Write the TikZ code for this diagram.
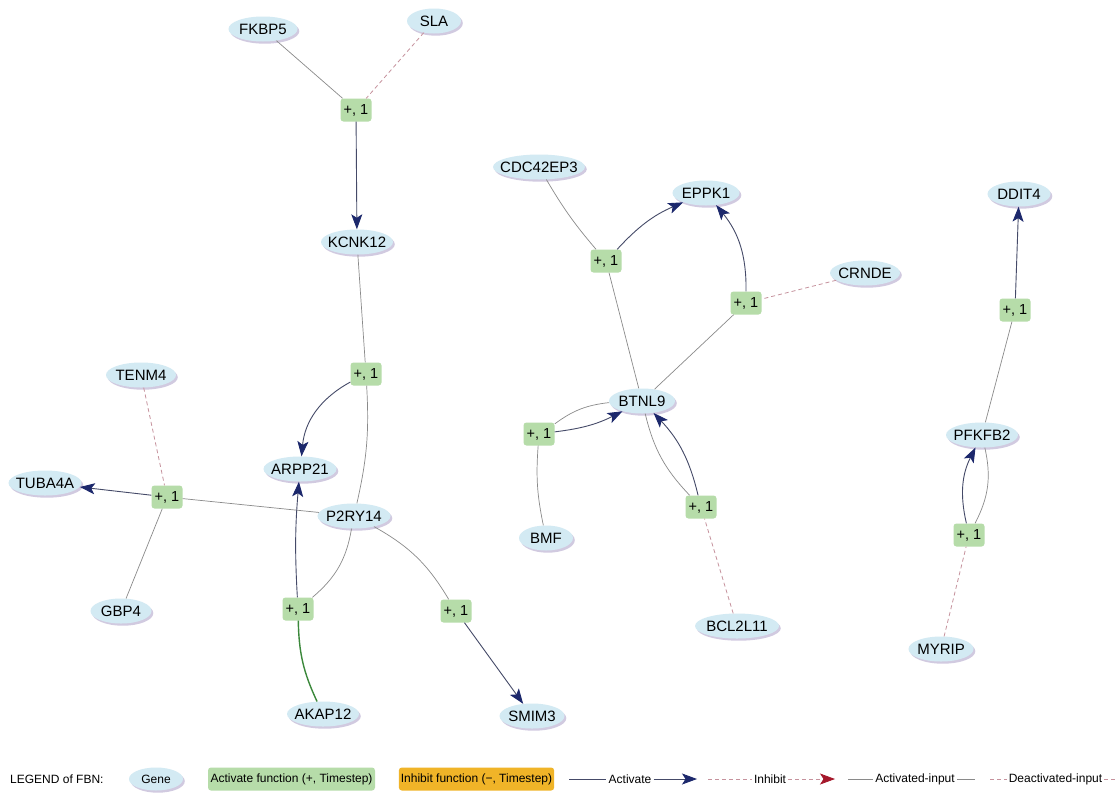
\documentclass[tikz,border=0pt]{standalone}
\usepackage{fontspec}
\setmainfont{Liberation Sans}
\usetikzlibrary{shapes.geometric,arrows.meta,shadows}
\definecolor{genefill}{HTML}{D3EAF3}
\definecolor{geneshade}{HTML}{B3A8CC}
\definecolor{actfill}{HTML}{B6DCA9}
\definecolor{inhfill}{HTML}{F0B428}
\definecolor{actline}{HTML}{454A68}
\definecolor{navy}{HTML}{1C286C}
\definecolor{inputgray}{HTML}{8A8A8A}
\definecolor{deactpink}{HTML}{C6929D}
\definecolor{inhred}{HTML}{A5182B}
\definecolor{akapgreen}{HTML}{3B883B}
\begin{document}
\begin{tikzpicture}[x=1pt,y=1pt,
  gene/.style={ellipse, fill=genefill, inner xsep=-40pt, inner ysep=-12pt,
    minimum height=25pt, minimum width=#1, font=\fontsize{15}{17}\selectfont,
    drop shadow={shadow xshift=1.8pt, shadow yshift=-2.2pt, fill=geneshade, opacity=0.6}},
  gene/.default=66,
  fn/.style={rectangle, rounded corners=3pt, fill=actfill, minimum width=31pt,
    minimum height=23pt, inner sep=2pt, font=\fontsize{14.5}{16}\selectfont},
  act/.style={draw=actline, line width=0.9pt,
    -{Stealth[length=15pt,width=11pt,inset=3.5pt,color=navy]}},
  ain/.style={draw=inputgray, line width=0.7pt},
  din/.style={draw=deactpink, line width=0.8pt, dash pattern=on 4pt off 3pt},
  akap/.style={draw=akapgreen, line width=1.4pt},
  legtext/.style={font=\fontsize{12}{14}\selectfont, inner sep=2pt},
]
\fill[white] (0,0) rectangle (1118,-793);
\useasboundingbox (0,0) rectangle (1118,-793);

% genes
\node[gene=69] (fkbp5) at (263,-29) {FKBP5};
\node[gene=54] (sla) at (434,-21) {SLA};
\node[gene=72] (kcnk12) at (357,-242) {KCNK12};
\node[gene=70] (tenm4) at (141,-375) {TENM4};
\node[gene=73] (arpp21) at (300,-469) {ARPP21};
\node[gene=73] (p2ry14) at (354,-516) {P2RY14};
\node[gene=73] (tuba4a) at (45,-483) {TUBA4A};
\node[gene=61] (gbp4) at (121,-611) {GBP4};
\node[gene=72] (akap12) at (323,-714) {AKAP12};
\node[gene=65] (smim3) at (532,-716) {SMIM3};
\node[gene=92] (cdc42ep3) at (539,-167) {CDC42EP3};
\node[gene=67] (eppk1) at (706,-193) {EPPK1};
\node[gene=70] (crnde) at (865,-273) {CRNDE};
\node[gene=66] (btnl9) at (642,-401) {BTNL9};
\node[gene=54] (bmf) at (546,-538) {BMF};
\node[gene=84] (bcl2l11) at (737,-626) {BCL2L11};
\node[gene=63] (ddit4) at (1019,-194) {DDIT4};
\node[gene=72] (pfkfb2) at (982,-435) {PFKFB2};
\node[gene=65] (myrip) at (941,-649) {MYRIP};

% activate functions
\node[fn] (f1) at (356,-110) {+, 1};
\node[fn] (f2) at (366,-374) {+, 1};
\node[fn] (f3) at (167,-497) {+, 1};
\node[fn] (f4) at (298,-609) {+, 1};
\node[fn] (f5) at (456,-611) {+, 1};
\node[fn] (f6) at (606,-261) {+, 1};
\node[fn] (f7) at (746,-303) {+, 1};
\node[fn] (f8) at (539,-434) {+, 1};
\node[fn] (f9) at (701,-507) {+, 1};
\node[fn] (f10) at (1015,-310) {+, 1};
\node[fn] (f11) at (969,-535) {+, 1};

% connectors
\draw[ain] (fkbp5) -- (f1);
\draw[din] (sla) -- (f1);
\draw[act] (f1) -- (kcnk12);
\draw[ain] (kcnk12) -- (f2);
\draw[act] (f2) to[bend right=28] (arpp21);
\draw[ain] (f2) to[bend left=8] (p2ry14);
\draw[ain] (p2ry14) -- (f3);
\draw[din] (tenm4) -- (f3);
\draw[ain] (gbp4) -- (f3);
\draw[act] (f3) -- (tuba4a);
\draw[ain] (p2ry14) to[bend left=20] (f4);
\draw[act] (f4) to[bend left=4] (arpp21);
\draw[akap] (akap12) to[bend left=12] (f4);
\draw[ain] (p2ry14) to[bend left=15] (f5);
\draw[act] (f5) -- (smim3);
\draw[ain] (cdc42ep3) to[bend right=5] (f6);
\draw[act] (f6) to[bend left=12] (eppk1);
\draw[ain] (f6) -- (btnl9);
\draw[ain] (btnl9) -- (f7);
\draw[din] (crnde) -- (f7);
\draw[act] (f7) to[bend right=20] (eppk1);
\draw[act] (f8) to[bend right=10] (btnl9);
\draw[ain] (btnl9) to[bend right=15] (f8);
\draw[ain] (bmf) to[bend left=8] (f8);
\draw[ain] (btnl9) to[bend right=15] (f9);
\draw[act] (f9) to[bend right=15] (btnl9);
\draw[din] (bcl2l11) -- (f9);
\draw[act] (f10) -- (ddit4);
\draw[ain] (pfkfb2) -- (f10);
\draw[act] (f11) to[bend left=20] (pfkfb2);
\draw[ain] (pfkfb2) to[bend left=20] (f11);
\draw[din] (myrip) -- (f11);

% legend
\node[legtext, anchor=west] (legtitle) at (8,-779) {LEGEND of FBN:};
\node[gene=54, minimum height=23pt, font=\fontsize{12}{14}\selectfont] (leggene) at (156,-779) {Gene};
\node[fn, minimum width=167pt, font=\fontsize{12}{14}\selectfont] (legact) at (291.5,-779) {Activate function (+, Timestep)};
\node[fn, fill=inhfill, minimum width=155pt, font=\fontsize{12}{14}\selectfont] (leginh) at (476.5,-779) {Inhibit function (−, Timestep)};

\node[legtext] (lacttxt) at (630,-779) {Activate};
\coordinate (la0) at (569,-779);
\coordinate (la1) at (697,-779);
\draw[draw=actline, line width=0.9pt] (la0) -- (lacttxt.west);
\draw[act] (lacttxt.east) -- (la1);

\node[legtext] (linhtxt) at (770,-779) {Inhibit};
\coordinate (li0) at (708,-779);
\coordinate (li1) at (835,-779);
\draw[din] (li0) -- (linhtxt.west);
\draw[din, -{Stealth[length=15pt,width=11pt,inset=3.5pt,color=inhred]}] (linhtxt.east) -- (li1);

\node[legtext] (laintxt) at (915,-779) {Activated-input};
\coordinate (lai0) at (848,-779);
\coordinate (lai1) at (975,-779);
\draw[ain] (lai0) -- (laintxt.west);
\draw[ain] (laintxt.east) -- (lai1);

\node[legtext] (ldintxt) at (1055.5,-779) {Deactivated-input};
\coordinate (ldi0) at (990,-779);
\coordinate (ldi1) at (1118,-779);
\draw[din] (ldi0) -- (ldintxt.west);
\draw[din] (ldintxt.east) -- (ldi1);
\end{tikzpicture}
\end{document}
